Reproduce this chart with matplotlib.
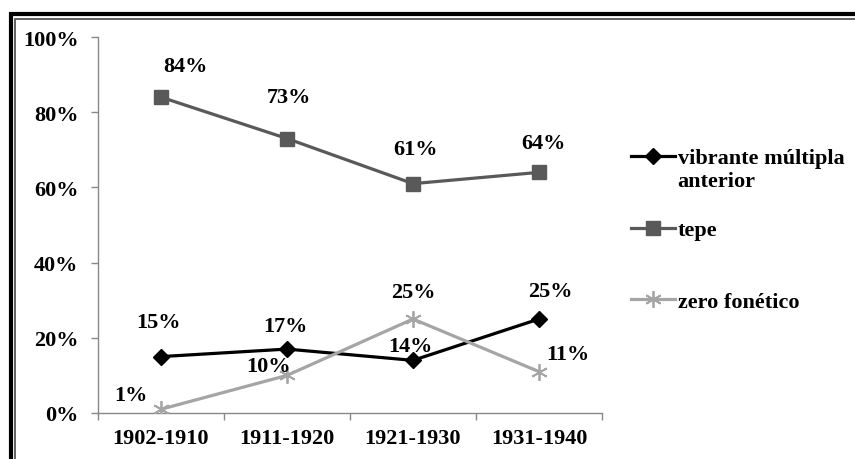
import matplotlib
matplotlib.use("Agg")
import matplotlib.pyplot as plt
from matplotlib.patches import Rectangle

plt.rcParams["font.family"] = ["Liberation Serif", "DejaVu Serif"]
plt.rcParams["font.weight"] = "bold"

periods = ["1902-1910", "1911-1920", "1921-1930", "1931-1940"]
vibrante = [15, 17, 14, 25]
tepe = [84, 73, 61, 64]
zero = [1, 10, 25, 11]
series_names = ["vibrante múltipla\nanterior", "tepe\n ", "zero fonético"]

# label offsets (pixels) relative to each point
off_vib = [(-3, 35), (-2, 23), (-3, 14), (11, 28)]
off_tepe = [(24, 31), (2, 42), (3, 35), (4, 29)]
off_zero = [(-30, 14), (-18, 9), (0, 27), (29, 18)]

FS = 16

fig = plt.figure(figsize=(8.55, 4.6), dpi=100)
ax = fig.add_axes([98 / 855, 1 - 414 / 460, 504 / 855, 376 / 460])

x = list(range(len(periods)))
l1, = ax.plot(x, vibrante, color="black", lw=2.3, marker="D", ms=8, zorder=3)
l2, = ax.plot(x, tepe, color="#595959", lw=2.3, marker="s", ms=10, zorder=3)
l3, = ax.plot(x, zero, color="#a5a5a5", lw=2.3, marker=(6, 2, 0), ms=12,
              mew=1.3, zorder=3)

for vals, offs in [(vibrante, off_vib), (tepe, off_tepe), (zero, off_zero)]:
    for i, v in enumerate(vals):
        ax.annotate(f"{v}%", (i, v), xytext=offs[i], textcoords="offset pixels",
                    ha="center", va="center", fontsize=FS, fontweight="bold")

ax.set_xlim(-0.5, 3.5)
ax.set_ylim(0, 100)
ax.set_yticks([0, 20, 40, 60, 80, 100])
ax.set_yticklabels([f"{t}%" for t in [0, 20, 40, 60, 80, 100]])
ax.set_xticks(x)
ax.set_xticklabels(periods)
ax.set_xticks([-0.5, 0.5, 1.5, 2.5, 3.5], minor=True)
ax.tick_params(axis="x", which="major", length=0, pad=11, labelsize=FS)
ax.tick_params(axis="x", which="minor", length=5, color="#888888", width=1)
ax.tick_params(axis="y", length=5, color="#888888", width=1, pad=9, labelsize=FS)
for lab in ax.get_xticklabels() + ax.get_yticklabels():
    lab.set_fontweight("bold")
for s in ["top", "right"]:
    ax.spines[s].set_visible(False)
for s in ["left", "bottom"]:
    ax.spines[s].set_color("#888888")
    ax.spines[s].set_linewidth(1)

leg = ax.legend([l1, l2, l3], series_names, loc="upper left",
                bbox_to_anchor=(622 / 855, 1 - 140 / 460),
                bbox_transform=fig.transFigure, frameon=False,
                prop={"size": FS, "weight": "bold"}, handlelength=2.0,
                handletextpad=0.1, labelspacing=1.3, borderaxespad=0)
try:
    for col in leg._legend_handle_box.get_children():
        for item in col.get_children():
            item.align = "top"
except Exception:
    pass

# double frame around the figure
fig.patches.append(Rectangle((10.5 / 855, -0.1), 1.2, 1.1 - 15 / 460,
                             transform=fig.transFigure, fill=False,
                             edgecolor="black", lw=3.0))
fig.patches.append(Rectangle((15 / 855, -0.1), 1.2, 1.1 - 19.7 / 460,
                             transform=fig.transFigure, fill=False,
                             edgecolor="#555555", lw=1.3))

fig.savefig("out.png", dpi=100)
